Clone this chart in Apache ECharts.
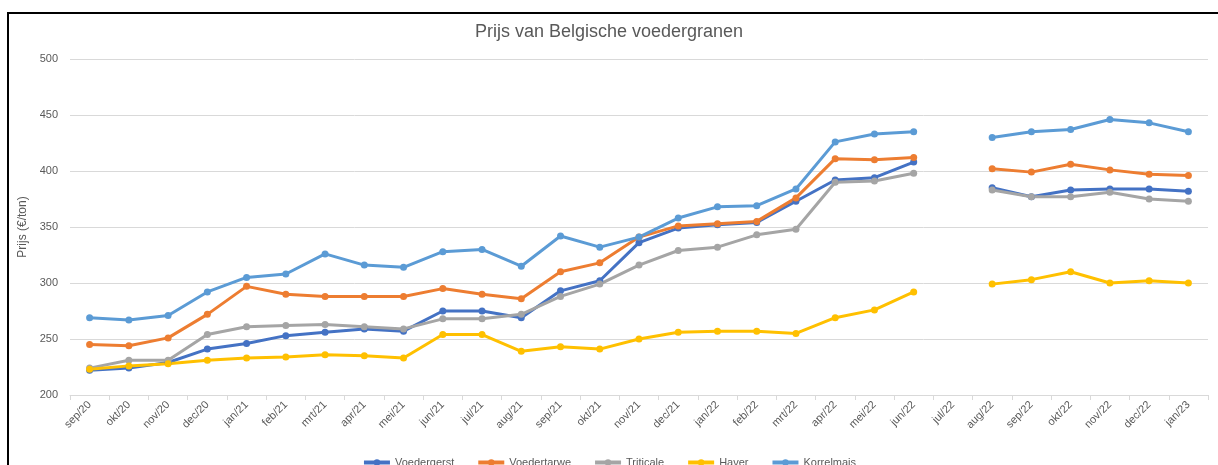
<!DOCTYPE html>
<html>
<head>
<meta charset="utf-8">
<script src="https://cdn.jsdelivr.net/npm/echarts@6/dist/echarts.min.js"></script>
<style>
  html, body { margin: 0; padding: 0; background: #fff; }
  #chart { width: 1218px; height: 465px; }
</style>
</head>
<body>
<div id="chart"></div>
<script>
var months = ['sep/20','okt/20','nov/20','dec/20','jan/21','feb/21','mrt/21','apr/21','mei/21','jun/21','jul/21','aug/21',
    'sep/21','okt/21','nov/21','dec/21','jan/22','feb/22','mrt/22','apr/22','mei/22','jun/22','jul/22','aug/22',
    'sep/22','okt/22','nov/22','dec/22','jan/23'];

// prijzen in €/ton, jul/22 ontbreekt
var voedergerst = [222, 224, 229, 241, 246, 253, 256, 259, 257, 275, 275, 269, 293, 302, 336, 349, 352, 354, 373, 392, 394, 408, null, 385, 377, 383, 384, 384, 382];
var voedertarwe = [245, 244, 251, 272, 297, 290, 288, 288, 288, 295, 290, 286, 310, 318, 341, 351, 353, 355, 376, 411, 410, 412, null, 402, 399, 406, 401, 397, 396];
var triticale = [224, 231, 231, 254, 261, 262, 263, 261, 259, 268, 268, 272, 288, 299, 316, 329, 332, 343, 348, 390, 391, 398, null, 383, 377, 377, 381, 375, 373];
var haver = [223, 226, 228, 231, 233, 234, 236, 235, 233, 254, 254, 239, 243, 241, 250, 256, 257, 257, 255, 269, 276, 292, null, 299, 303, 310, 300, 302, 300];
var korrelmais = [269, 267, 271, 292, 305, 308, 326, 316, 314, 328, 330, 315, 342, 332, 341, 358, 368, 369, 384, 426, 433, 435, null, 430, 435, 437, 446, 443, 435];

var names = ['Voedergerst', 'Voedertarwe', 'Triticale', 'Haver', 'Korrelmais'];
var colors = ['#4472C4', '#ED7D31', '#A5A5A5', '#FFC000', '#5B9BD5'];
var values = [voedergerst, voedertarwe, triticale, haver, korrelmais];

var txt = '#595959';
var font = 'Liberation Sans';

var series = [];
for (var i = 0; i < names.length; i++) {
    series.push({
        name: names[i],
        type: 'line',
        data: values[i],
        symbol: 'circle',
        symbolSize: 7,
        connectNulls: false,
        lineStyle: { width: 3, color: colors[i] },
        itemStyle: { color: colors[i] }
    });
}

var chart = echarts.init(document.getElementById('chart'));
chart.setOption({
    animation: false,
    color: colors,
    textStyle: { fontFamily: font },
    graphic: [{
        type: 'rect',
        shape: { x: 8, y: 13, width: 1400, height: 700 },
        style: { fill: 'none', stroke: '#000', lineWidth: 2 },
        z: 100
    }],
    title: {
        text: 'Prijs van Belgische voedergranen',
        left: 'center',
        top: 18,
        textStyle: { fontSize: 18, fontWeight: 'normal', color: txt, fontFamily: font }
    },
    legend: {
        bottom: -8,
        left: 'center',
        itemWidth: 26,
        itemHeight: 8,
        itemGap: 22,
        lineStyle: { width: 4 },
        textStyle: { fontSize: 11, color: txt, fontFamily: font },
        data: names
    },
    grid: { left: 70, right: 10, top: 59, bottom: 70, containLabel: false },
    xAxis: {
        type: 'category',
        data: months,
        boundaryGap: true,
        axisLine: { lineStyle: { color: '#d9d9d9', width: 1 } },
        axisTick: { show: true, alignWithLabel: false, length: 5, lineStyle: { color: '#d9d9d9' } },
        axisLabel: { rotate: 45, fontSize: 11, color: txt, margin: 8, interval: 0, fontFamily: font }
    },
    yAxis: {
        type: 'value',
        min: 200,
        max: 500,
        interval: 50,
        name: 'Prijs (€/ton)',
        nameLocation: 'middle',
        nameGap: 36,
        nameTextStyle: { fontSize: 12, color: txt, fontFamily: font },
        axisLine: { show: false },
        axisTick: { show: false },
        axisLabel: { fontSize: 11, color: txt, margin: 12, fontFamily: font },
        splitLine: { lineStyle: { color: '#d9d9d9', width: 1 } }
    },
    series: series
});
</script>
</body>
</html>
